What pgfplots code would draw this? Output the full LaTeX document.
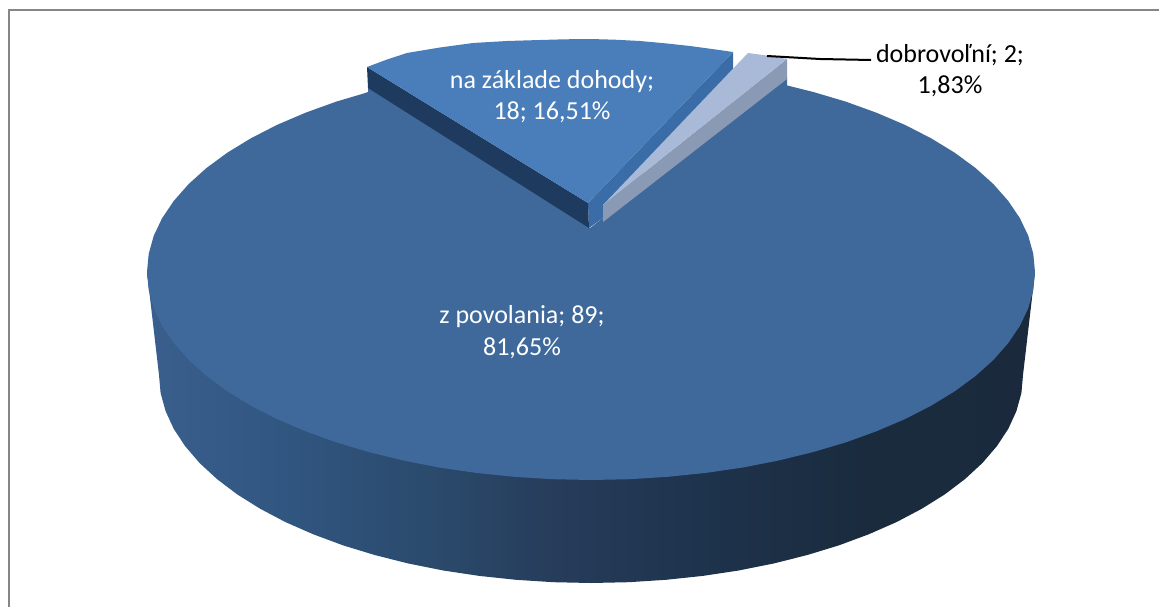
\documentclass[border=0pt]{standalone}
\usepackage{pgfplots}
\pgfplotsset{compat=1.18}
\usepackage{fontspec}
\setmainfont{Carlito}
\definecolor{bigtop}{HTML}{3F689B}
\definecolor{midtop}{HTML}{4A7EBB}
\definecolor{midleft}{HTML}{1F3A5F}
\definecolor{midright}{HTML}{3A6CA8}
\definecolor{paletop}{HTML}{A9BAD8}
\definecolor{palewall}{HTML}{8A9AB5}
\definecolor{frame}{HTML}{868686}
\pgfdeclarehorizontalshading{piewall}{100bp}{
 rgb(0bp)=(0.227,0.373,0.557);
 rgb(25bp)=(0.227,0.373,0.557);
 rgb(33bp)=(0.190,0.335,0.500);
 rgb(42bp)=(0.165,0.285,0.415);
 rgb(48bp)=(0.150,0.235,0.355);
 rgb(56bp)=(0.118,0.200,0.300);
 rgb(65bp)=(0.102,0.170,0.245);
 rgb(75bp)=(0.102,0.165,0.235);
 rgb(100bp)=(0.102,0.165,0.235)}
\begin{document}
\begin{tikzpicture}
\begin{axis}[
  scale only axis, width=1159pt, height=607pt,
  xmin=0, xmax=1159, ymin=0, ymax=607, y dir=reverse,
  axis lines=none, clip=true, ticks=none]
% frame
\addplot[draw=frame, line width=2pt, forget plot] coordinates {(9,607) (9,10.5) (1159,10.5)};
% side wall of the large slice
\addplot[draw=none, shading=piewall, forget plot] coordinates {
 (147,272) (159,375) (160.6,393.1) (165.6,411.1) (173.7,428.8) (185.1,446.1) (199.5,462.9) (216.9,479) (237.1,494.3) (260.1,508.7) (285.5,522.1) (313.3,534.3) (343.2,545.4) (375,555.1) (408.4,563.5) (443.3,570.5) (479.2,575.9) (516,579.8) (553.3,582.2) (591,583) (628.7,582.2) (666,579.8) (702.8,575.9) (738.7,570.5) (773.6,563.5) (807,555.1) (838.8,545.4) (868.7,534.3) (896.5,522.1) (921.9,508.7) (944.9,494.3) (965.1,479) (982.5,462.9) (996.9,446.1) (1008.3,428.8) (1016.4,411.1) (1021.4,393.1) (1023,375) (1035,272)} -- cycle;
% top of the large slice: z povolania, 89
\addplot[draw=none, fill=bigtop, forget plot] coordinates {
 (590,228) (603,218) (787,76) (787,85.4) (813,91.9) (845.7,101.6) (876.4,112.7) (905,124.9) (931.1,138.3) (954.7,152.7) (975.5,168) (993.4,184.1) (1008.2,200.9) (1019.9,218.2) (1028.3,235.9) (1033.3,253.9) (1035,272)
 (1033.3,290.1) (1028.3,308.1) (1019.9,325.8) (1008.2,343.1) (993.4,359.9) (975.5,376) (954.7,391.3) (931.1,405.7) (905,419.1) (876.4,431.3) (845.7,442.4) (813,452.1) (778.6,460.5) (742.9,467.5) (705.9,472.9) (668.1,476.8) (629.7,479.2) (591,480)
 (552.3,479.2) (513.9,476.8) (476.1,472.9) (439.1,467.5) (403.4,460.5) (369,452.1) (336.3,442.4) (305.6,431.3) (277,419.1) (250.9,405.7) (227.3,391.3) (206.5,376) (188.6,359.9) (173.8,343.1) (162.1,325.8) (153.7,308.1) (148.7,290.1) (147,272)
 (148.7,253.9) (153.7,235.9) (162.1,218.2) (173.8,200.9) (188.6,184.1) (206.5,168) (227.3,152.7) (250.9,138.3) (277,124.9) (305.6,112.7) (336.3,101.6) (362,94) (368,92) (368,87) (500,170)} -- cycle;
% walls and top of the middle slice: na zaklade dohody, 18
\addplot[draw=none, fill=midright, forget plot] coordinates {(588,203) (733,52) (733,72) (603,218) (589,228)} -- cycle;
\addplot[draw=none, fill=midleft, forget plot] coordinates {(367,67) (588,203) (589,228) (368,88)} -- cycle;
\addplot[draw=none, fill=midtop, forget plot] coordinates {(588,203) (367,67) (387,59.5) (407,53) (440,47.5) (473,43) (507,41) (540,40) (565,39.3) (590,39) (615,39.7) (640,41) (665,43.3) (690,46) (712,49) (733,52)} -- cycle;
% walls and top of the small slice: dobrovolni, 2
\addplot[draw=none, fill=palewall, forget plot] coordinates {(603,205) (787,59) (787,79) (603,222)} -- cycle;
\addplot[draw=none, fill=paletop, forget plot] coordinates {(603,205) (748,53) (759,54.5) (770,56) (787,59)} -- cycle;
% leader
\addplot[draw=black, line width=2pt, forget plot] coordinates {(767,56) (820,59) (871,60)};
\node[text=white, font=\fontsize{26}{31}\selectfont, align=center] at (axis cs:552,97) {na základe dohody;\\18; 16,51\%};
\node[text=white, font=\fontsize{26}{32}\selectfont, align=center] at (axis cs:522,332) {z povolania; 89;\\81,65\%};
\node[text=black, font=\fontsize{26}{31}\selectfont, align=center] at (axis cs:950,71) {dobrovoľní; 2;\\1,83\%};
\end{axis}
\path (current axis.south west) rectangle (current axis.north east);
\end{tikzpicture}
\end{document}
